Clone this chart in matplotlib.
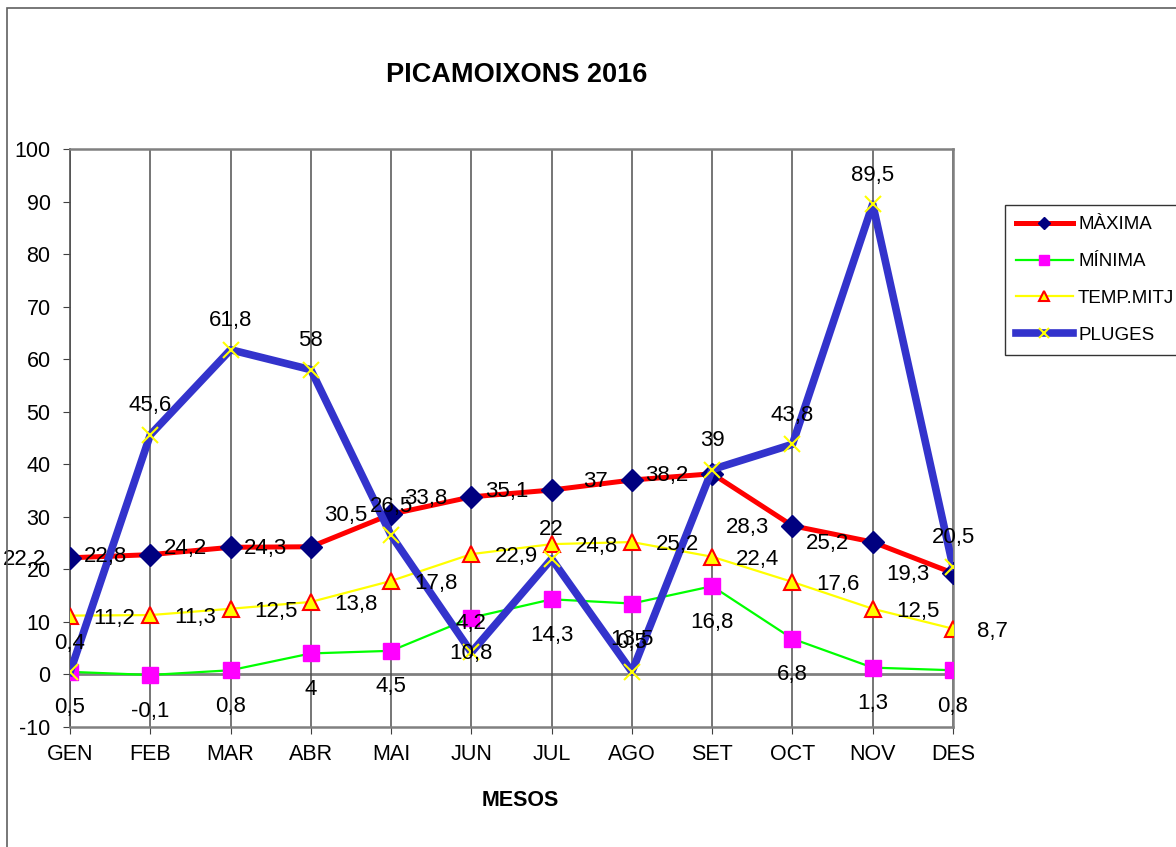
import numpy as np
import matplotlib
matplotlib.use("Agg")
import matplotlib.pyplot as plt
from matplotlib.patches import Rectangle

plt.rcParams['font.family'] = ['Liberation Sans', 'DejaVu Sans']
plt.rcParams['axes.unicode_minus'] = False

mesos = ['GEN', 'FEB', 'MAR', 'ABR', 'MAI', 'JUN', 'JUL', 'AGO', 'SET', 'OCT', 'NOV', 'DES']
maxima = [22.2, 22.8, 24.2, 24.3, 30.5, 33.8, 35.1, 37, 38.2, 28.3, 25.2, 19.3]
minima = [0.5, -0.1, 0.8, 4, 4.5, 10.8, 14.3, 13.5, 16.8, 6.8, 1.3, 0.8]
temp_mitj = [11.2, 11.3, 12.5, 13.8, 17.8, 22.9, 24.8, 25.2, 22.4, 17.6, 12.5, 8.7]
pluges = [0.4, 45.6, 61.8, 58, 26.5, 4.2, 22, 0.5, 39, 43.8, 89.5, 20.5]


def fmt(v):
    s = ('%g' % v).replace('.', ',')
    return s


fig = plt.figure(figsize=(11.76, 8.47), dpi=100)
ax = fig.add_axes([70/1176, 1-727/847, (953-70)/1176, (727-149)/847])

x = np.arange(len(mesos))

l1, = ax.plot(x, maxima, color='#FF0000', lw=3.6, marker='D', ms=11,
              mfc='#000080', mec='#000080', label='MÀXIMA', zorder=3)
l2, = ax.plot(x, minima, color='#00FF00', lw=1.6, marker='s', ms=12,
              mfc='#FF00FF', mec='#FF00FF', label='MÍNIMA', zorder=3)
l3, = ax.plot(x, temp_mitj, color='#FFFF00', lw=1.6, marker='^', ms=11,
              mfc='#FFFF00', mec='#FF0000', mew=1.5, label='TEMP.MITJ', zorder=3)
l4, = ax.plot(x, pluges, color='#3333CC', lw=5.5, marker='x', ms=11,
              mec='#FFFF00', mew=1.5, label='PLUGES', zorder=4)

fs = 16
for i in x:
    ax.annotate(fmt(maxima[i]), (i, maxima[i]), xytext=(-17, -1),
                textcoords='offset points', ha='right', va='center',
                fontsize=fs, zorder=6)
    ax.annotate(fmt(minima[i]), (i, minima[i]), xytext=(0, -26),
                textcoords='offset points', ha='center', va='center',
                fontsize=fs, zorder=6)
    ax.annotate(fmt(temp_mitj[i]), (i, temp_mitj[i]), xytext=(17, -2),
                textcoords='offset points', ha='left', va='center',
                fontsize=fs, zorder=6)
    ax.annotate(fmt(pluges[i]), (i, pluges[i]), xytext=(0, 21),
                textcoords='offset points', ha='center', va='center',
                fontsize=fs, zorder=6)

ax.set_xlim(0, 11)
ax.set_ylim(-10, 100)
ax.set_yticks(np.arange(-10, 101, 10))
ax.set_xticks(x)
ax.set_xticklabels(mesos)
ax.tick_params(axis='both', labelsize=15.5, length=5, color='#404040', direction='out')
ax.tick_params(axis='x', pad=7)
ax.tick_params(axis='y', pad=9)

ax.grid(axis='x', color='#505050', lw=1.1)
ax.axhline(0, color='#808080', lw=2, zorder=1)
for s in ax.spines.values():
    s.set_color('#808080')
    s.set_linewidth(1.8)
ax.spines['left'].set_color('#505050')
ax.spines['left'].set_linewidth(1.2)

fig.text(517/1176, 1-75/847, 'PICAMOIXONS 2016', ha='center', va='center',
         fontsize=19.5, fontweight='bold')
fig.text(520/1176, 1-800/847, 'MESOS', ha='center', va='center',
         fontsize=15.5, fontweight='bold')

leg = fig.legend(handles=[l1, l2, l3, l4], loc='upper left',
                 bbox_to_anchor=(1005/1176, 1-205/847), fontsize=13.5,
                 frameon=True, fancybox=False, edgecolor='black',
                 handlelength=3.0, handletextpad=0.3, labelspacing=1.05,
                 borderpad=0.6, borderaxespad=0, markerscale=0.6)
leg.get_frame().set_linewidth(1.0)

fig.patches.append(Rectangle((7/1176, -0.1), 1.2, 1.1-8/847, transform=fig.transFigure,
                             fill=False, edgecolor='#606060', lw=1.2))

fig.savefig('out.png', dpi=100)
